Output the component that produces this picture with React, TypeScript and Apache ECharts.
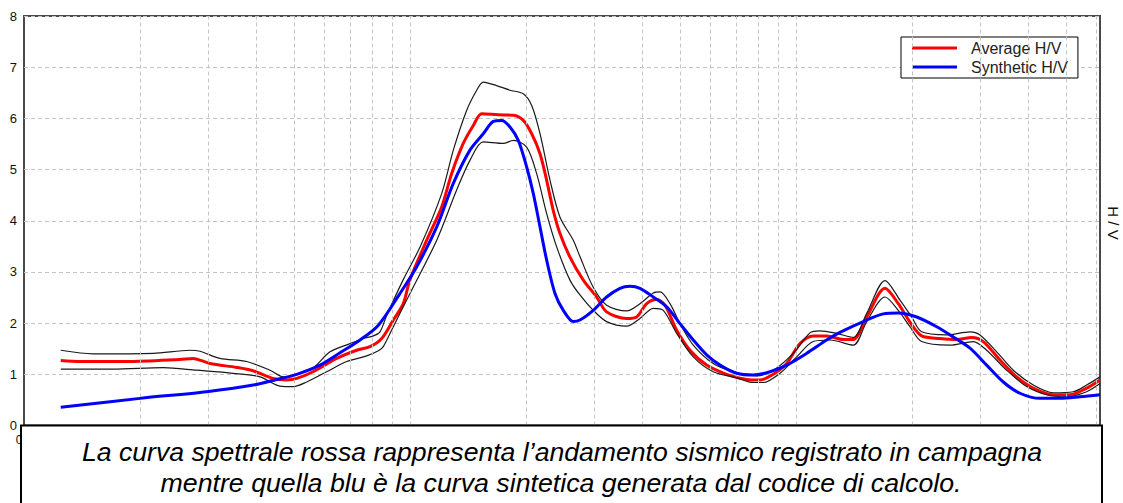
import React, { useEffect, useRef } from "react";
import * as echarts from "echarts";

// Frequency (Hz, log axis) / H/V ratio readings
const avgFreq = [0.1245, 0.1397, 0.1845, 0.2536, 0.274, 0.3033, 0.3556, 0.392, 0.4417, 0.4793, 0.5087, 0.5608, 0.6458, 0.7276, 0.7877, 0.8447, 0.9052, 0.9607, 1.0, 1.105, 1.208, 1.282, 1.374, 1.459, 1.534, 1.693, 1.852, 1.966, 2.067, 2.172, 2.26, 2.351, 2.447, 2.597, 2.812, 3.045, 3.232, 3.642, 3.866, 4.104, 4.357, 4.578, 4.909, 5.314, 5.87, 6.614, 7.454, 8.067, 8.736, 9.461, 10.24, 11.08, 12.01, 13.26, 14.07, 15.25, 17.01, 18.41, 19.74, 21.17, 23.61, 26.09, 28.53, 30.56, 33.78, 37.31, 41.19, 46.42, 51.28, 56.64, 61.33];
const avgHV = [1.27, 1.25, 1.25, 1.29, 1.31, 1.21, 1.135, 1.07, 0.92, 0.89, 0.92, 1.05, 1.31, 1.47, 1.54, 1.7, 2.06, 2.38, 2.85, 3.62, 4.27, 4.92, 5.51, 5.86, 6.09, 6.07, 6.06, 5.96, 5.7, 5.31, 4.79, 4.2, 3.75, 3.29, 2.84, 2.51, 2.22, 2.09, 2.12, 2.38, 2.46, 2.35, 1.86, 1.47, 1.18, 1.0, 0.9, 0.89, 1.0, 1.21, 1.6, 1.75, 1.75, 1.68, 1.68, 2.12, 2.68, 2.38, 2.02, 1.75, 1.7, 1.68, 1.72, 1.64, 1.28, 0.95, 0.73, 0.6, 0.6, 0.73, 0.89];

const synFreq = [0.1245, 0.1998, 0.2974, 0.3927, 0.4516, 0.5087, 0.5846, 0.6588, 0.7424, 0.828, 0.9422, 1.041, 1.173, 1.295, 1.43, 1.548, 1.644, 1.729, 1.816, 1.908, 2.006, 2.087, 2.172, 2.26, 2.375, 2.496, 2.649, 2.756, 2.984, 3.232, 3.499, 3.715, 3.943, 4.269, 4.624, 5.006, 5.419, 5.87, 6.357, 7.023, 7.753, 8.563, 9.461, 10.66, 12.01, 13.0, 15.25, 16.83, 18.41, 20.55, 23.15, 25.56, 28.24, 31.19, 34.45, 38.04, 42.87, 48.3, 54.43, 61.33];
const synHV = [0.355, 0.53, 0.66, 0.79, 0.9, 1.0, 1.18, 1.42, 1.67, 1.96, 2.58, 3.1, 3.88, 4.73, 5.38, 5.7, 5.94, 5.96, 5.83, 5.57, 5.05, 4.53, 3.88, 3.23, 2.58, 2.25, 2.03, 2.06, 2.25, 2.51, 2.68, 2.72, 2.68, 2.51, 2.32, 1.99, 1.67, 1.38, 1.18, 1.02, 0.985, 1.05, 1.18, 1.41, 1.67, 1.82, 2.06, 2.18, 2.2, 2.12, 1.93, 1.73, 1.51, 1.18, 0.85, 0.63, 0.53, 0.53, 0.56, 0.6];

const upperFreq = [0.1245, 0.1512, 0.2163, 0.2692, 0.2858, 0.322, 0.3775, 0.4339, 0.4697, 0.5087, 0.5618, 0.6205, 0.6993, 0.7568, 0.8035, 0.8362, 0.8702, 0.9607, 1.064, 1.208, 1.295, 1.403, 1.489, 1.548, 1.677, 1.816, 1.966, 2.067, 2.172, 2.306, 2.447, 2.649, 2.756, 2.984, 3.232, 3.642, 3.943, 4.269, 4.444, 4.716, 5.006, 5.419, 6.104, 6.879, 7.911, 8.736, 9.84, 10.87, 11.54, 12.75, 14.07, 15.25, 17.01, 18.6, 19.94, 21.17, 24.57, 28.24, 29.97, 33.11, 36.56, 41.19, 46.42, 52.3, 56.64, 61.33];
const upperHV = [1.47, 1.4, 1.41, 1.47, 1.45, 1.31, 1.25, 1.08, 0.95, 1.0, 1.13, 1.44, 1.6, 1.7, 1.75, 1.83, 2.15, 2.85, 3.5, 4.53, 5.38, 6.16, 6.55, 6.71, 6.64, 6.55, 6.48, 6.25, 5.7, 4.79, 4.07, 3.62, 3.3, 2.7, 2.35, 2.24, 2.38, 2.59, 2.61, 2.38, 1.99, 1.57, 1.21, 1.05, 0.97, 1.08, 1.41, 1.81, 1.85, 1.8, 1.72, 2.19, 2.83, 2.45, 2.12, 1.83, 1.77, 1.83, 1.77, 1.44, 1.08, 0.79, 0.64, 0.66, 0.79, 0.95];

const lowerFreq = [0.1245, 0.1701, 0.2296, 0.2802, 0.3485, 0.4087, 0.4605, 0.4986, 0.5401, 0.6084, 0.6855, 0.7724, 0.828, 0.8528, 0.9052, 1.0, 1.173, 1.321, 1.43, 1.548, 1.745, 1.852, 2.006, 2.129, 2.26, 2.399, 2.597, 2.756, 2.984, 3.232, 3.642, 3.943, 4.269, 4.531, 4.909, 5.419, 6.104, 7.023, 7.753, 8.228, 9.09, 10.04, 11.08, 12.25, 14.07, 15.25, 17.01, 18.41, 19.74, 21.17, 25.06, 28.8, 31.19, 35.14, 39.61, 44.62, 50.28, 56.64, 61.33];
const lowerHV = [1.1, 1.1, 1.13, 1.08, 1.02, 0.95, 0.77, 0.76, 0.85, 1.05, 1.25, 1.36, 1.46, 1.54, 1.93, 2.58, 3.62, 4.6, 5.18, 5.54, 5.51, 5.57, 5.44, 4.92, 4.14, 3.49, 2.84, 2.55, 2.25, 2.03, 1.94, 2.09, 2.29, 2.25, 1.8, 1.34, 1.05, 0.93, 0.84, 0.84, 1.02, 1.34, 1.64, 1.67, 1.57, 2.03, 2.51, 2.25, 1.93, 1.64, 1.57, 1.64, 1.47, 1.08, 0.76, 0.6, 0.56, 0.66, 0.82];

const gridFreqs = [0.2, 0.3, 0.4, 0.5, 0.6, 0.7, 0.8, 0.9, 1, 2, 3, 4, 5, 6, 7, 8, 9, 10, 20, 30, 40, 50, 60];
const yTicks = [0, 1, 2, 3, 4, 5, 6, 7, 8];

const legendNames = ["Average H/V", "Synthetic H/V"];
const captionLines = [
  "La curva spettrale rossa rappresenta l\u2019andamento sismico registrato in campagna",
  "mentre quella blu \u00e8 la curva sintetica generata dal codice di calcolo.",
];
const axisTitle = "H / V";

const zip = (xs: number[], ys: number[]) => xs.map((x, i) => [x, ys[i]]);

const FONT = "'Liberation Sans', Arial, sans-serif";

export default function App() {
  const ref = useRef<HTMLDivElement>(null);
  useEffect(() => {
    if (!ref.current) return;
    const chart = echarts.init(ref.current, undefined, { renderer: "svg" });
    chart.setOption({
      animation: false,
      backgroundColor: "#ffffff",
      grid: {
        left: 24,
        right: 23,
        top: 16,
        bottom: 77.5,
        show: true,
        borderColor: "#4a4a4a",
        borderWidth: 2,
        backgroundColor: "transparent",
      },
      xAxis: {
        type: "log",
        logBase: 10,
        min: 0.1,
        max: 61.33,
        axisLine: { show: false },
        axisTick: { show: false },
        axisLabel: { show: false },
        splitLine: { show: false },
      },
      yAxis: {
        type: "value",
        min: yTicks[0],
        max: yTicks[yTicks.length - 1],
        interval: 1,
        axisLine: { show: false },
        axisTick: { show: false },
        axisLabel: { color: "#111", fontSize: 13, fontFamily: FONT, margin: 7 },
        splitLine: { lineStyle: { color: "#c4c4c4", type: [4, 3], width: 1 } },
      },
      legend: {
        data: legendNames,
        orient: "vertical",
        left: 901,
        top: 37,
        padding: [3, 10, 3, 11],
        itemGap: 3,
        itemWidth: 45,
        itemHeight: 3,
        icon: "rect",
        borderColor: "#000",
        borderWidth: 1,
        borderRadius: 0,
        backgroundColor: "#fff",
        textStyle: { fontFamily: FONT, fontSize: 16, color: "#222", lineHeight: 16, padding: [0, 0, 0, 9] },
      },
      series: [
        {
          name: "gridlines",
          type: "line",
          data: [],
          z: 1,
          silent: true,
          markLine: {
            silent: true,
            symbol: "none",
            label: { show: false },
            lineStyle: { color: "#c4c4c4", type: [4, 3], width: 1 },
            data: gridFreqs.map((f) => ({ xAxis: f })),
          },
        },
        {
          name: "Average H/V",
          type: "line",
          data: zip(avgFreq, avgHV),
          smooth: 0.3,
          showSymbol: false,
          lineStyle: { color: "#ff0000", width: 3 },
          itemStyle: { color: "#ff0000" },
          z: 3,
        },
        {
          name: "Lower",
          type: "line",
          data: zip(lowerFreq, lowerHV),
          smooth: 0.3,
          showSymbol: false,
          lineStyle: { color: "#1a1a1a", width: 1.2 },
          itemStyle: { color: "#1a1a1a" },
          z: 4,
        },
        {
          name: "Upper",
          type: "line",
          data: zip(upperFreq, upperHV),
          smooth: 0.3,
          showSymbol: false,
          lineStyle: { color: "#1a1a1a", width: 1.2 },
          itemStyle: { color: "#1a1a1a" },
          z: 4,
        },
        {
          name: "Synthetic H/V",
          type: "line",
          data: zip(synFreq, synHV),
          smooth: 0.3,
          showSymbol: false,
          lineStyle: { color: "#0000ff", width: 3 },
          itemStyle: { color: "#0000ff" },
          z: 5,
        },
      ],
      graphic: [
        {
          type: "text",
          x: 1113,
          y: 223,
          rotation: -Math.PI / 2,
          style: { text: axisTitle, font: `15px ${FONT}`, fill: "#111", align: "center", verticalAlign: "middle" },
        },
        {
          type: "text",
          x: 19,
          y: 440,
          z: 50,
          style: { text: "0", font: `12px ${FONT}`, fill: "#111", align: "center", verticalAlign: "middle" },
        },
        {
          type: "rect",
          z: 100,
          shape: { x: 21, y: 425.5, width: 1081, height: 100 },
          style: { fill: "#fff", stroke: "#000", lineWidth: 2 },
        },
        {
          type: "text",
          x: 562,
          y: 452,
          z: 101,
          scaleX: 1.065,
          style: { text: captionLines[0], font: `italic 25px ${FONT}`, fill: "#000", align: "center", verticalAlign: "middle" },
        },
        {
          type: "text",
          x: 561,
          y: 483,
          z: 101,
          scaleX: 1.07,
          style: { text: captionLines[1], font: `italic 25px ${FONT}`, fill: "#000", align: "center", verticalAlign: "middle" },
        },
      ],
    });
    return () => chart.dispose();
  }, []);
  return <div ref={ref} style={{ position: "absolute", left: 0, top: 0, width: 1123, height: 503 }} />;
}
